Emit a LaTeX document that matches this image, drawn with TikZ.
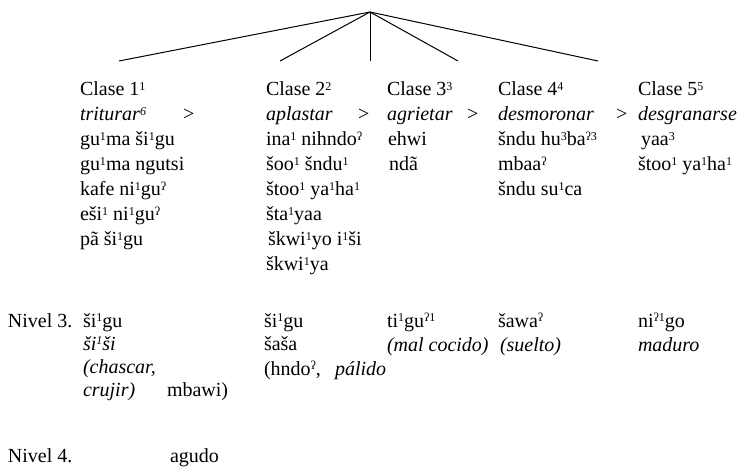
\documentclass[tikz,border=0pt]{standalone}
\usepackage{fontspec}
\setmainfont{Liberation Serif}
\newcommand\sps[1]{\raisebox{0.62ex}{\fontsize{12}{12}\selectfont #1}}
\newcommand\gs{\sps{ʔ}}
\tikzset{
  tx/.style={anchor=base west, inner sep=0pt, outer sep=0pt, font=\fontsize{20}{24}\selectfont},
  ln/.style={line width=1pt, black}
}
\begin{document}
\begin{tikzpicture}[x=1pt,y=-1pt]
\useasboundingbox (0,0) rectangle (740,468);
% tree
\coordinate (top) at (370,12);
\coordinate (e1) at (119,61);
\coordinate (e2) at (280,61);
\coordinate (e3) at (370,61);
\coordinate (e4) at (458,61);
\coordinate (e5) at (598,61);
\foreach \e in {e1,e2,e3,e4,e5} \draw[ln] (top) -- (\e);
% column 1
\node[tx] (c1a) at (80,96) {Clase 1\sps{1}};
\node[tx] (c1b) at (80,121) {\textit{triturar\sps{6}}};
\node[tx] (g1) at (183,121) {>};
\node[tx] (c1c) at (80,146) {gu\sps{1}ma ši\sps{1}gu};
\node[tx] (c1d) at (80,171) {gu\sps{1}ma ngutsi};
\node[tx] (c1e) at (80,196) {kafe ni\sps{1}gu\gs};
\node[tx] (c1f) at (80,221) {eši\sps{1} ni\sps{1}gu\gs};
\node[tx] (c1g) at (80,246) {pã ši\sps{1}gu};
% column 2
\node[tx] (c2a) at (266,96) {Clase 2\sps{2}};
\node[tx] (c2b) at (266,121) {\textit{aplastar}};
\node[tx] (g2) at (358,121) {>};
\node[tx] (c2c) at (266,146) {ina\sps{1} nihndo\gs};
\node[tx] (c2d) at (266,171) {šoo\sps{1} šndu\sps{1}};
\node[tx] (c2e) at (266,196) {štoo\sps{1} ya\sps{1}ha\sps{1}};
\node[tx] (c2f) at (266,221) {šta\sps{1}yaa};
\node[tx] (c2g) at (268,246) {škwi\sps{1}yo i\sps{1}ši};
\node[tx] (c2h) at (266,271) {škwi\sps{1}ya};
% column 3
\node[tx] (c3a) at (387,96) {Clase 3\sps{3}};
\node[tx] (c3b) at (387,121) {\textit{agrietar}};
\node[tx] (g3) at (467,121) {>};
\node[tx] (c3c) at (388,146) {ehwi};
\node[tx] (c3d) at (389,171) {ndã};
% column 4
\node[tx] (c4a) at (498,96) {Clase 4\sps{4}};
\node[tx] (c4b) at (498,121) {\textit{desmoronar}};
\node[tx] (g4) at (616,121) {>};
\node[tx] (c4c) at (498,146) {šndu hu\sps{3}ba\sps{ʔ3}};
\node[tx] (c4d) at (498,171) {mbaa\gs};
\node[tx] (c4e) at (498,196) {šndu su\sps{1}ca};
% column 5
\node[tx] (c5a) at (638,96) {Clase 5\sps{5}};
\node[tx] (c5b) at (638,121) {\textit{desgranarse}};
\node[tx] (c5c) at (641,146) {yaa\sps{3}};
\node[tx] (c5d) at (638,171) {štoo\sps{1} ya\sps{1}ha\sps{1}};
% Nivel 3
\node[tx] (n3) at (8,327) {Nivel 3.};
\node[tx] (n31a) at (83,327) {ši\sps{1}gu};
\node[tx] (n31b) at (83,350) {\textit{ši\sps{1}ši}};
\node[tx] (n31c) at (83,373) {\textit{(chascar,}};
\node[tx] (n31d) at (83,396) {\textit{crujir)}};
\node[tx] (n31e) at (167,396) {mbawi)};
\node[tx] (n32a) at (264,327) {ši\sps{1}gu};
\node[tx] (n32b) at (264,350) {šaša};
\node[tx] (n32c) at (264,375) {(hndo\gs,};
\node[tx] (n32d) at (335,375) {\textit{pálido}};
\node[tx] (n33a) at (387,327) {ti\sps{1}gu\sps{ʔ1}};
\node[tx] (n33b) at (387,352) {\textit{(mal cocido)}};
\node[tx] (n34a) at (498,327) {šawa\gs};
\node[tx] (n34b) at (500,352) {\textit{(suelto)}};
\node[tx] (n35a) at (638,327) {ni\sps{ʔ1}go};
\node[tx] (n35b) at (638,352) {\textit{maduro}};
% Nivel 4
\node[tx] (n4) at (8,462) {Nivel 4.};
\node[tx] (n4a) at (170,462) {agudo};
\end{tikzpicture}
\end{document}
